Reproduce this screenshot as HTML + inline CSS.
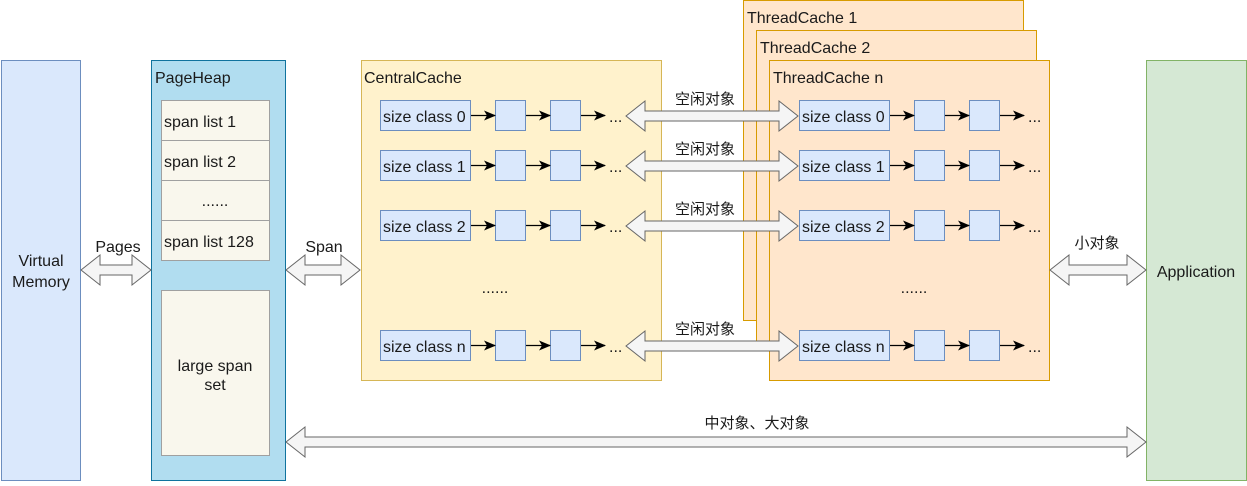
<!DOCTYPE html>
<html><head><meta charset="utf-8"><style>
html,body{margin:0;padding:0;background:#fff;}
svg text{font-family:"Liberation Sans","Noto Sans CJK SC",sans-serif;font-size:16px;fill:#1a1a1a;}
svg text.cn{font-size:15px;}
</style></head><body>
<svg width="1247" height="481" xmlns="http://www.w3.org/2000/svg">
<defs>
<marker id="ah" markerWidth="12" markerHeight="10" refX="11" refY="5" orient="auto" markerUnits="userSpaceOnUse">
<path d="M0,0 L12,5 L0,10 L3,5 z" fill="#000"/></marker>
</defs>
<rect x="1.5" y="60.5" width="79" height="420" fill="#dae8fc" stroke="#6c8ebf"/>
<text x="41" y="266" text-anchor="middle">Virtual</text>
<text x="41" y="287" text-anchor="middle">Memory</text>
<rect x="151.5" y="60.5" width="134" height="420" fill="#b1ddf0" stroke="#10739e"/>
<text x="155" y="83">PageHeap</text>
<g fill="#f9f7ed" stroke="#a0a0a0">
<rect x="161.5" y="100.5" width="108" height="40"/>
<rect x="161.5" y="140.5" width="108" height="40"/>
<rect x="161.5" y="180.5" width="108" height="40"/>
<rect x="161.5" y="220.5" width="108" height="40"/>
<rect x="161.5" y="290.5" width="108" height="165"/>
</g>
<text x="164" y="127">span list 1</text>
<text x="164" y="167">span list 2</text>
<text x="215" y="206" text-anchor="middle">......</text>
<text x="164" y="247">span list 128</text>
<text x="215" y="371" text-anchor="middle">large span</text>
<text x="215" y="390" text-anchor="middle">set</text>
<rect x="361.5" y="60.5" width="300" height="320" fill="#fff2cc" stroke="#d6b656"/>
<text x="364" y="83">CentralCache</text>
<rect x="743.5" y="0.5" width="280" height="320" fill="#ffe6cc" stroke="#d79b00"/>
<text x="747" y="23">ThreadCache 1</text>
<rect x="756.5" y="30.5" width="280" height="320" fill="#ffe6cc" stroke="#d79b00"/>
<text x="760" y="53">ThreadCache 2</text>
<rect x="769.5" y="60.5" width="280" height="320" fill="#ffe6cc" stroke="#d79b00"/>
<text x="773" y="83">ThreadCache n</text>
<rect x="1146.5" y="60.5" width="100" height="420" fill="#d5e8d4" stroke="#82b366"/>
<text x="1196" y="277" text-anchor="middle">Application</text>

<g fill="#dae8fc" stroke="#6c8ebf">
<rect x="380.5" y="100.5" width="90" height="30"/><rect x="495.5" y="100.5" width="30" height="30"/><rect x="550.5" y="100.5" width="30" height="30"/>
<rect x="380.5" y="150.5" width="90" height="30"/><rect x="495.5" y="150.5" width="30" height="30"/><rect x="550.5" y="150.5" width="30" height="30"/>
<rect x="380.5" y="210.5" width="90" height="30"/><rect x="495.5" y="210.5" width="30" height="30"/><rect x="550.5" y="210.5" width="30" height="30"/>
<rect x="380.5" y="330.5" width="90" height="30"/><rect x="495.5" y="330.5" width="30" height="30"/><rect x="550.5" y="330.5" width="30" height="30"/>
<rect x="799.5" y="100.5" width="90" height="30"/><rect x="914.5" y="100.5" width="30" height="30"/><rect x="969.5" y="100.5" width="30" height="30"/>
<rect x="799.5" y="150.5" width="90" height="30"/><rect x="914.5" y="150.5" width="30" height="30"/><rect x="969.5" y="150.5" width="30" height="30"/>
<rect x="799.5" y="210.5" width="90" height="30"/><rect x="914.5" y="210.5" width="30" height="30"/><rect x="969.5" y="210.5" width="30" height="30"/>
<rect x="799.5" y="330.5" width="90" height="30"/><rect x="914.5" y="330.5" width="30" height="30"/><rect x="969.5" y="330.5" width="30" height="30"/>
</g>
<g stroke="#000" stroke-width="1.3" marker-end="url(#ah)">
<line x1="471" y1="115.5" x2="495" y2="115.5"/><line x1="526" y1="115.5" x2="550" y2="115.5"/><line x1="581" y1="115.5" x2="605" y2="115.5"/>
<line x1="471" y1="165.5" x2="495" y2="165.5"/><line x1="526" y1="165.5" x2="550" y2="165.5"/><line x1="581" y1="165.5" x2="605" y2="165.5"/>
<line x1="471" y1="225.5" x2="495" y2="225.5"/><line x1="526" y1="225.5" x2="550" y2="225.5"/><line x1="581" y1="225.5" x2="605" y2="225.5"/>
<line x1="471" y1="345.5" x2="495" y2="345.5"/><line x1="526" y1="345.5" x2="550" y2="345.5"/><line x1="581" y1="345.5" x2="605" y2="345.5"/>
<line x1="890" y1="115.5" x2="914" y2="115.5"/><line x1="945" y1="115.5" x2="969" y2="115.5"/><line x1="1000" y1="115.5" x2="1024" y2="115.5"/>
<line x1="890" y1="165.5" x2="914" y2="165.5"/><line x1="945" y1="165.5" x2="969" y2="165.5"/><line x1="1000" y1="165.5" x2="1024" y2="165.5"/>
<line x1="890" y1="225.5" x2="914" y2="225.5"/><line x1="945" y1="225.5" x2="969" y2="225.5"/><line x1="1000" y1="225.5" x2="1024" y2="225.5"/>
<line x1="890" y1="345.5" x2="914" y2="345.5"/><line x1="945" y1="345.5" x2="969" y2="345.5"/><line x1="1000" y1="345.5" x2="1024" y2="345.5"/>
</g>
<text x="383" y="122">size class 0</text><text x="383" y="172">size class 1</text><text x="383" y="232">size class 2</text><text x="383" y="352">size class n</text>
<text x="802" y="122">size class 0</text><text x="802" y="172">size class 1</text><text x="802" y="232">size class 2</text><text x="802" y="352">size class n</text>
<text x="609" y="122">...</text><text x="609" y="172">...</text><text x="609" y="232">...</text><text x="609" y="352">...</text>
<text x="1028" y="122">...</text><text x="1028" y="172">...</text><text x="1028" y="232">...</text><text x="1028" y="352">...</text>
<text x="495" y="293" text-anchor="middle">......</text>
<text x="914" y="293" text-anchor="middle">......</text>

<g fill="#f5f5f5" stroke="#666">
<polygon points="81,270 100,255 100,265 132,265 132,255 151,270 132,285 132,275 100,275 100,285"/>
<polygon points="286,270 305,255 305,265 341,265 341,255 360,270 341,285 341,275 305,275 305,285"/>
<polygon points="626,116 645,101 645,111 779,111 779,101 798,116 779,131 779,121 645,121 645,131"/>
<polygon points="626,166 645,151 645,161 779,161 779,151 798,166 779,181 779,171 645,171 645,181"/>
<polygon points="626,226 645,211 645,221 779,221 779,211 798,226 779,241 779,231 645,231 645,241"/>
<polygon points="626,346 645,331 645,341 779,341 779,331 798,346 779,361 779,351 645,351 645,361"/>
<polygon points="1050,270 1069,255 1069,265 1127,265 1127,255 1146,270 1127,285 1127,275 1069,275 1069,285"/>
<polygon points="286,442 305,427 305,437 1127,437 1127,427 1146,442 1127,457 1127,447 305,447 305,457"/>
</g>
<text x="118" y="252" text-anchor="middle">Pages</text>
<text x="324" y="252" text-anchor="middle">Span</text>
<text class="cn" x="705" y="104" text-anchor="middle">空闲对象</text>
<text class="cn" x="705" y="154" text-anchor="middle">空闲对象</text>
<text class="cn" x="705" y="214" text-anchor="middle">空闲对象</text>
<text class="cn" x="705" y="334" text-anchor="middle">空闲对象</text>
<text class="cn" x="1097" y="248" text-anchor="middle">小对象</text>
<text class="cn" x="757" y="428" text-anchor="middle">中对象、大对象</text>
</svg>
</body></html>
